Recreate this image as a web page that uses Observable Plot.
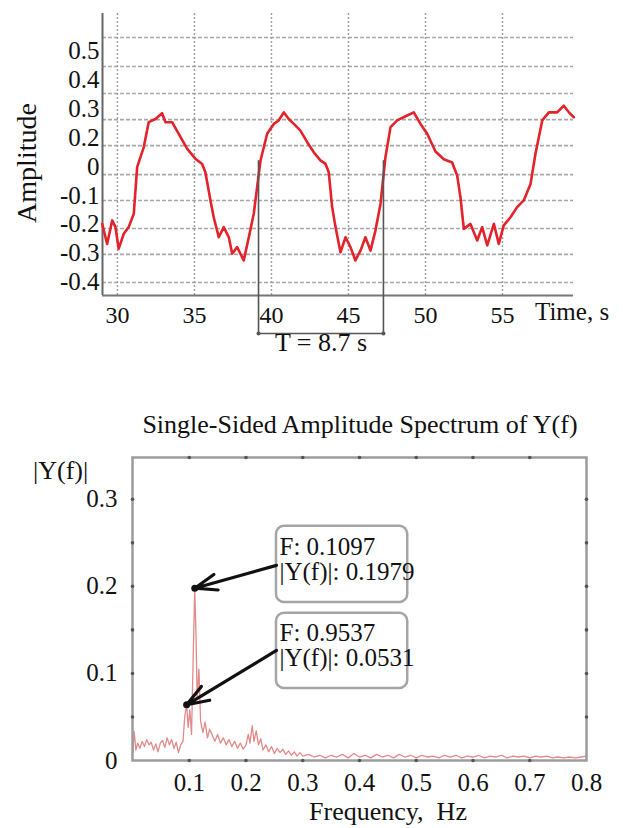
<!DOCTYPE html>
<html><head><meta charset="utf-8">
<script src="https://cdn.jsdelivr.net/npm/d3@7"></script>
<script src="https://cdn.jsdelivr.net/npm/@observablehq/plot@0.6"></script>
<style>
body{margin:0;background:#fff}
#wrap{position:relative;width:623px;height:828px;font-family:"Liberation Serif","Times New Roman",serif;color:#111;overflow:hidden}
.lbl{position:absolute;white-space:pre;line-height:1}
</style>
</head><body><div id="wrap"></div>
<script>
// ---------- Top chart: time signal ----------
const timeS = [29.01,29.33,29.66,29.87,30.08,30.41,30.73,31.06,31.28,31.71,32.03,32.47,32.90,33.12,33.55,33.98,34.53,35.06,35.50,35.71,36.04,36.25,36.58,36.90,37.23,37.45,37.77,38.20,38.53,38.85,39.29,39.72,40.15,40.47,40.80,41.12,41.45,41.88,42.32,42.75,43.18,43.51,43.72,43.94,44.16,44.48,44.81,45.13,45.45,45.78,46.10,46.43,46.75,47.08,47.40,47.73,48.16,48.81,49.24,49.68,50.11,50.65,51.19,51.73,52.06,52.27,52.49,52.92,53.36,53.68,54.01,54.44,54.76,55.08,55.52,55.95,56.38,56.82,57.14,57.58,58.01,58.55,58.98,59.31,59.63];
const amplitude = [-0.098,-0.167,-0.086,-0.109,-0.184,-0.132,-0.109,-0.063,0.098,0.167,0.253,0.264,0.284,0.253,0.253,0.213,0.161,0.127,0.109,0.080,-0.017,-0.075,-0.144,-0.109,-0.144,-0.201,-0.178,-0.224,-0.144,-0.063,0.121,0.213,0.247,0.259,0.287,0.264,0.247,0.224,0.184,0.149,0.121,0.109,0.080,-0.040,-0.109,-0.196,-0.144,-0.178,-0.224,-0.190,-0.144,-0.190,-0.121,-0.029,0.132,0.236,0.259,0.276,0.287,0.247,0.213,0.152,0.125,0.114,0.068,-0.006,-0.115,-0.098,-0.155,-0.109,-0.172,-0.098,-0.167,-0.103,-0.075,-0.040,-0.017,0.040,0.144,0.259,0.287,0.287,0.310,0.287,0.270];
const timeTicks = [30,35,40,45,50,55];
const ampTickValues = [0.5,0.4,0.3,0.2,0.1,0,-0.1,-0.2,-0.3];
const ampTickLabels = ["0.5","0.4","0.3","0.2","0","-0.1","-0.2","-0.3","-0.4"];
const ampGridLines = [0.545,0.445,0.352,0.262,0.172,0.072,-0.017,-0.114,-0.203,-0.300];
const periodBounds = [39.16, 47.27];
const periodLabel = "T = 8.7 s";

// ---------- Bottom chart: spectrum ----------
const specFreq = [0,0.003,0.006,0.009,0.013,0.017,0.021,0.025,0.029,0.033,0.037,0.041,0.045,0.049,0.053,0.057,0.061,0.065,0.069,0.073,0.077,0.081,0.085,0.089,0.092,0.0954,0.098,0.101,0.104,0.107,0.1097,0.112,0.114,0.117,0.12,0.124,0.128,0.132,0.136,0.14,0.145,0.15,0.155,0.16,0.165,0.17,0.175,0.18,0.185,0.19,0.195,0.2,0.204,0.207,0.211,0.214,0.218,0.222,0.226,0.23,0.235,0.24,0.245,0.25,0.255,0.26,0.265,0.27,0.275,0.28,0.285,0.29,0.295,0.3,0.31,0.32,0.33,0.34,0.35,0.36,0.37,0.38,0.39,0.4,0.41,0.42,0.43,0.44,0.45,0.46,0.47,0.48,0.49,0.5,0.51,0.52,0.53,0.54,0.55,0.56,0.57,0.58,0.59,0.6,0.61,0.62,0.63,0.64,0.65,0.66,0.67,0.68,0.69,0.7,0.71,0.72,0.73,0.74,0.75,0.76,0.77,0.78,0.79,0.8];
const specAmp = [0.005,0.033,0.012,0.02,0.014,0.022,0.016,0.024,0.018,0.021,0.012,0.019,0.01,0.02,0.023,0.015,0.026,0.018,0.024,0.014,0.021,0.009,0.018,0.022,0.05,0.064,0.038,0.058,0.03,0.12,0.1979,0.14,0.07,0.105,0.045,0.032,0.044,0.026,0.036,0.03,0.022,0.03,0.02,0.026,0.018,0.024,0.016,0.022,0.014,0.02,0.013,0.018,0.03,0.02,0.04,0.022,0.034,0.018,0.025,0.012,0.018,0.01,0.016,0.008,0.014,0.009,0.013,0.007,0.011,0.006,0.01,0.005,0.009,0.005,0.007,0.004,0.006,0.003,0.006,0.004,0.007,0.003,0.008,0.004,0.006,0.003,0.007,0.004,0.006,0.003,0.007,0.004,0.006,0.003,0.006,0.004,0.005,0.003,0.006,0.004,0.006,0.003,0.005,0.004,0.006,0.003,0.005,0.004,0.006,0.003,0.005,0.004,0.005,0.003,0.005,0.004,0.005,0.003,0.004,0.003,0.004,0.003,0.004,0.005];
const freqLabelTicks = [0.1,0.2,0.3,0.4,0.5,0.6,0.7,0.8];
const freqDotTicks = [0.1,0.2,0.3,0.4,0.5,0.6,0.7];
const specLabelTicks = [0,0.1,0.2,0.3];
const specDotTicks = [0.05,0.1,0.15,0.2,0.25,0.3];
const markerFreq = [0.1097, 0.0954];
const markerAmp = [0.1979, 0.064];
const tipLine1 = ["F: 0.1097", "F: 0.9537"];
const tipLine2 = ["|Y(f)|: 0.1979", "|Y(f)|: 0.0531"];

const wrap = document.getElementById("wrap");
const font = '"Liberation Serif","Times New Roman",serif';

const signal = timeS.map((t, i) => ({t, a: amplitude[i]}));
const labelMap = new Map(ampTickValues.map((v, i) => [v, ampTickLabels[i]]));
const xDom = [29.03, 59.61], yDom = [-0.345, 0.628];

const topPlot = Plot.plot({
  width: 623, height: 360,
  marginLeft: 102, marginRight: 50, marginTop: 13, marginBottom: 65,
  x: {domain: xDom},
  y: {domain: yDom},
  style: {fontFamily: font, fontSize: "24px", color: "#111", background: "transparent", overflow: "visible"},
  marks: [
    Plot.ruleY(ampGridLines, {stroke: "#a8a8a8", strokeWidth: 1.6, strokeDasharray: "4,2"}),
    Plot.ruleX(timeTicks, {stroke: "#a0a0a0", strokeWidth: 1.5, strokeDasharray: "2,2"}),
    Plot.ruleX([xDom[0]], {stroke: "#666", strokeWidth: 2}),
    Plot.ruleY([yDom[0]], {stroke: "#777", strokeWidth: 2}),
    Plot.axisX({ticks: timeTicks, tickSize: 0, tickPadding: 10, label: null, fontSize: 24}),
    Plot.axisY({ticks: ampTickValues, tickFormat: d => labelMap.get(d), tickSize: 0, tickPadding: 3, label: null, fontSize: 25}),
    Plot.line(signal, {x: "t", y: "a", stroke: "#e3222b", strokeWidth: 2.6, strokeLinejoin: "round"}),
    Plot.ruleX(periodBounds, {x: d => d, y1: 0.12, y2: -0.476, stroke: "#555", strokeWidth: 1.6}),
    Plot.ruleY([-0.476], {x1: periodBounds[0], x2: periodBounds[1], stroke: "#555", strokeWidth: 1.6}),
    Plot.dot(periodBounds, {x: d => d, y: -0.476, r: 2, fill: "#555"}),
    Plot.text([periodLabel], {x: (periodBounds[0] + periodBounds[1]) / 2, y: -0.476, dy: 9, text: d => d, fontSize: 26, fill: "#111"})
  ]
});
topPlot.style.position = "absolute"; topPlot.style.left = "0px"; topPlot.style.top = "0px";
wrap.appendChild(topPlot);

const spectrum = specFreq.map((f, i) => ({f, a: specAmp[i]}));
const markers = markerFreq.map((f, i) => ({f, a: markerAmp[i]}));
const boxes = [
  {y1: 0.1816, y2: 0.269, ay: 0.2241, t1: 0.2448, t2: 0.2161, i: 0},
  {y1: 0.0828, y2: 0.169, ay: 0.1264, t1: 0.146, t2: 0.1172, i: 1}
];

const botPlot = Plot.plot({
  width: 623, height: 468,
  marginLeft: 132, marginRight: 37, marginTop: 97, marginBottom: 68,
  x: {domain: [0, 0.8]},
  y: {domain: [0, 0.348]},
  style: {fontFamily: font, fontSize: "25px", color: "#111", background: "transparent", overflow: "visible"},
  marks: [
    Plot.line(spectrum, {x: "f", y: "a", stroke: "#e28a8a", strokeWidth: 1.3}),
    Plot.frame({stroke: "#9c9c9c", strokeWidth: 2.5}),
    Plot.dot(freqDotTicks, {x: d => d, frameAnchor: "bottom", r: 1.8, fill: "#555"}),
    Plot.dot(freqDotTicks, {x: d => d, frameAnchor: "top", r: 1.8, fill: "#555"}),
    Plot.dot(specDotTicks, {y: d => d, frameAnchor: "left", r: 1.8, fill: "#555"}),
    Plot.dot(specDotTicks, {y: d => d, frameAnchor: "right", r: 1.8, fill: "#555"}),
    Plot.axisX({ticks: freqLabelTicks, tickFormat: d => String(d), tickSize: 0, tickPadding: 13, label: null, fontSize: 25}),
    Plot.axisY({ticks: specLabelTicks, tickFormat: d => String(d), tickSize: 0, tickPadding: 15, label: null, fontSize: 25}),
    Plot.rect(boxes, {x1: 0.2537, x2: 0.485, y1: "y1", y2: "y2", rx: 8, fill: "white", stroke: "#a5a5a5", strokeWidth: 2.5}),
    Plot.text(boxes, {x: 0.2537, y: "t1", dx: 3, text: b => tipLine1[b.i], textAnchor: "start", fontSize: 25, fill: "#111"}),
    Plot.text(boxes, {x: 0.2537, y: "t2", dx: 3, text: b => tipLine2[b.i], textAnchor: "start", fontSize: 25, fill: "#111"}),
    Plot.arrow(boxes, {x1: 0.2537, y1: "ay", x2: b => markerFreq[b.i], y2: b => markerAmp[b.i], stroke: "#111", strokeWidth: 3.2, headLength: 11, headAngle: 40}),
    Plot.dot(markers, {x: "f", y: "a", r: 3.5, fill: "#111"})
  ]
});
botPlot.style.position = "absolute"; botPlot.style.left = "0px"; botPlot.style.top = "360px";
wrap.appendChild(botPlot);

function label(text, css) {
  const d = document.createElement("div");
  d.className = "lbl";
  d.textContent = text;
  Object.assign(d.style, css);
  wrap.appendChild(d);
  return d;
}
label("Amplitude", {fontSize: "28px", left: "27px", top: "163px", transform: "translate(-50%,-50%) rotate(-90deg)"});
label("Time, s", {fontSize: "25px", left: "535px", top: "299px"});
label("Single-Sided Amplitude Spectrum of Y(f)", {fontSize: "26px", left: "360px", top: "412px", transform: "translateX(-50%)"});
label("|Y(f)|", {fontSize: "26px", left: "33px", top: "458px"});
label("Frequency,  Hz", {fontSize: "26px", left: "388px", top: "799px", transform: "translateX(-50%)"});
</script>
</body></html>
